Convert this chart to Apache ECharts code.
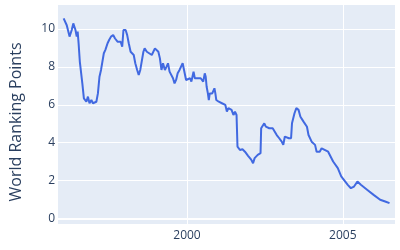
<!DOCTYPE html>
<html><head><meta charset="utf-8">
<script src="https://cdn.jsdelivr.net/npm/echarts@6/dist/echarts.min.js"></script>
<style>html,body{margin:0;padding:0;background:#fff}#c{width:400px;height:250px}</style>
</head><body><div id="c"></div>
<script>
const years = [1996.04,1996.14,1996.19,1996.23,1996.30,1996.35,1996.38,1996.42,1996.46,1996.49,1996.52,1996.56,1996.59,1996.64,1996.69,1996.77,1996.82,1996.87,1996.93,1996.98,1997.09,1997.14,1997.19,1997.24,1997.30,1997.33,1997.38,1997.40,1997.45,1997.50,1997.56,1997.63,1997.69,1997.77,1997.87,1997.92,1997.96,1998.03,1998.08,1998.13,1998.19,1998.24,1998.29,1998.34,1998.40,1998.45,1998.50,1998.55,1998.60,1998.64,1998.71,1998.76,1998.87,1998.92,1998.97,1999.03,1999.08,1999.13,1999.18,1999.23,1999.29,1999.34,1999.39,1999.44,1999.50,1999.55,1999.60,1999.65,1999.70,1999.76,1999.81,1999.86,1999.92,1999.97,2000.02,2000.10,2000.14,2000.21,2000.25,2000.33,2000.44,2000.49,2000.52,2000.57,2000.60,2000.63,2000.67,2000.70,2000.73,2000.81,2000.88,2000.91,2000.94,2001.02,2001.07,2001.12,2001.17,2001.23,2001.28,2001.33,2001.38,2001.43,2001.49,2001.54,2001.59,2001.62,2001.70,2001.78,2001.86,2001.96,2002.06,2002.12,2002.17,2002.27,2002.36,2002.38,2002.43,2002.48,2002.53,2002.59,2002.64,2002.75,2002.80,2002.88,2002.96,2003.04,2003.09,2003.14,2003.19,2003.27,2003.34,2003.37,2003.43,2003.45,2003.51,2003.58,2003.64,2003.74,2003.85,2003.90,2004.00,2004.11,2004.16,2004.21,2004.26,2004.32,2004.53,2004.69,2004.84,2004.95,2005.16,2005.26,2005.36,2005.42,2005.47,2005.58,2005.79,2005.99,2006.20,2006.36,2006.42,2006.50];
const points = [10.56,10.2,10.12,9.6,9.95,10.3,10.4,9.95,9.6,9.86,9.25,8.27,8.19,7.13,6.34,6.16,6.43,6.08,6.25,6.08,6.16,6.6,7.48,7.84,7.93,8.72,8.9,8.8,9.25,9.42,9.6,9.68,9.5,9.33,9.33,9.07,9.95,9.95,9.68,9.25,8.8,8.72,8.63,8.19,7.84,7.57,7.84,7.93,8.8,8.98,8.8,8.9,8.63,8.63,8.98,8.98,8.8,8.45,7.84,8.19,7.84,8.0,8.19,7.75,7.75,7.4,7.13,7.31,7.66,7.84,7.93,8.19,8.1,7.31,7.22,7.4,7.22,7.75,7.4,7.4,7.4,7.48,7.22,7.66,7.48,6.95,6.6,6.25,6.6,6.6,6.87,6.6,6.25,6.16,6.25,6.08,6.16,5.99,5.64,5.82,5.73,5.73,5.46,5.64,5.46,3.79,3.61,3.65,3.52,3.3,3.1,2.91,3.18,3.35,3.44,4.76,4.84,5.02,4.84,4.93,4.76,4.76,4.67,4.4,4.23,4.05,3.88,4.32,4.4,4.23,4.23,5.02,5.11,5.55,5.82,5.73,5.37,5.11,4.84,4.4,4.05,3.88,3.52,3.44,3.52,3.7,3.52,3.0,2.65,2.21,1.77,1.59,1.68,1.68,1.94,1.77,1.5,1.24,0.98,0.89,0.92,0.8];
const xTicks = [2000, 2005];
const yTicks = [0, 2, 4, 6, 8, 10];
const yTitle = 'World Ranking Points';

const chart = echarts.init(document.getElementById('c'), null, {renderer: 'canvas'});
const txt = '#2a3f5f';
chart.setOption({
  animation: false,
  backgroundColor: '#fff',
  grid: {left: 51, top: 5, width: 344, height: 219, containLabel: false, show: true, backgroundColor: '#E5ECF6', borderWidth: 0},
  xAxis: {
    type: 'value', min: 1995.859, max: 2006.676,
    axisLine: {show: false}, axisTick: {show: false, customValues: xTicks},
    axisLabel: {customValues: xTicks, color: txt, fontFamily: 'Open Sans', fontSize: 12, margin: 6, formatter: v => String(v)},
    splitLine: {show: true, lineStyle: {color: '#fff', width: 1}}
  },
  yAxis: {
    type: 'value', min: -0.3, max: 11.27,
    name: yTitle, nameLocation: 'middle', nameGap: 34,
    nameTextStyle: {color: txt, fontFamily: 'Open Sans', fontSize: 16, padding: [0, 15, 0, 0]},
    axisLine: {show: false}, axisTick: {show: false, customValues: yTicks},
    axisLabel: {customValues: yTicks, color: txt, fontFamily: 'Open Sans', fontSize: 12, margin: 3},
    splitLine: {show: true, lineStyle: {color: '#fff', width: 1}}
  },
  series: [{
    type: 'line', data: years.map((y, i) => [y, points[i]]),
    showSymbol: false, symbol: 'none',
    lineStyle: {color: '#4169E1', width: 2},
    markLine: {silent: true, symbol: 'none', label: {show: false},
      lineStyle: {color: '#fff', width: 2, type: 'solid'}, data: [{yAxis: 0}], z: 1},
    z: 3
  }]
});
</script></body></html>
